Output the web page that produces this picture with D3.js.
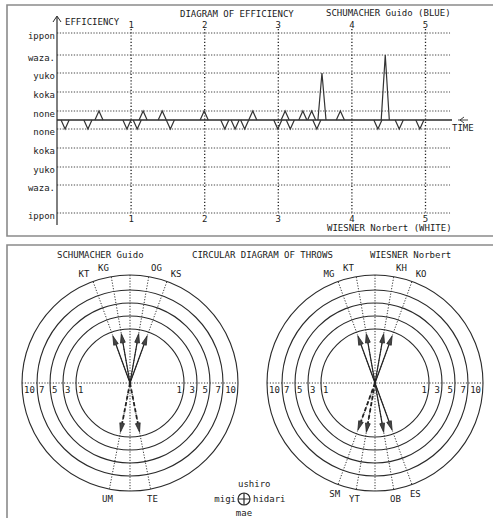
<!DOCTYPE html>
<html>
<head>
<meta charset="utf-8">
<script src="https://cdn.jsdelivr.net/npm/d3@7"></script>
<style>
  body { margin: 0; background: #fff; overflow: hidden; }
  svg { display: block; }
  svg text { font-family: 'DejaVu Sans Mono', monospace; font-size: 9px; fill: #1a1a1a; }
</style>
</head>
<body>
<svg id="chart" width="493" height="518"></svg>
<script>
// ---- diagram of efficiency ----
const levelNames = ['none', 'koka', 'yuko', 'waza.', 'ippon']
const minuteTicks = [1, 2, 3, 4, 5]
// one blip per action: time in minutes, signed score (+ blue / - white, 1 none .. 5 ippon)
const effTime  = [0.11, 0.42, 0.57, 0.95, 1.09, 1.17, 1.43, 1.54, 2.0, 2.28, 2.42, 2.55, 2.66,
                  3.0, 3.1, 3.17, 3.34, 3.46, 3.53, 3.6, 3.85, 4.36, 4.46, 4.65, 4.93]
const effScore = [-1, -1, 1, -1, -1, 1, 1, -1, 1, -1, -1, -1, 1,
                  -1, 1, -1, 1, 1, -1, 3, 1, -1, 4, -1, -1]

// ---- circular diagram of throws ----
const ringValues = [1, 3, 5, 7, 10]
const guidoThrow = ['KT', 'KG', 'OG', 'KS', 'UM', 'TE']
const guidoAngle = [-20, -10, 10, 20, 191, 169]   // degrees, clockwise from ushiro
const guidoCount = [1, 1, 1, 1, 1, 1]
const guidoHidari = [0, 0, 0, 0, 1, 1]
const norbertThrow = ['MG', 'KT', 'KH', 'KO', 'SM', 'YT', 'OB', 'ES']
const norbertAngle = [-20, -10, 10, 20, 200, 190, 170, 160]
const norbertCount = [1, 1, 1, 1, 1, 1, 1, 1]
const norbertHidari = [0, 0, 0, 0, 1, 1, 0, 0]

const ink = '#2a2a2a'
const svg = d3.select('#chart')

// panel frames (right side runs off the page)
svg.append('path').attr('d', 'M493,5 H7 V236 H493')
    .attr('fill', 'none').attr('stroke', '#8a8a8a').attr('stroke-width', 1.6)
svg.append('path').attr('d', 'M493,245 H7 V518')
    .attr('fill', 'none').attr('stroke', '#8a8a8a').attr('stroke-width', 1.6)

// ===== top panel =====
const x = d3.scaleLinear().domain([0, 5]).range([57, 425])
const y = d3.scaleLinear()
    .domain(d3.range(-5, 6))
    .range([213, 185, 167, 148, 129, 120, 111, 92, 73, 55, 33])
const xEnd = 5.34

const topG = svg.append('g')

const levels = d3.range(-5, 6).filter(d => d !== 0)
topG.selectAll('.hgrid').data(levels).join('line')
    .attr('class', 'hgrid')
    .attr('x1', x(0)).attr('x2', x(xEnd))
    .attr('y1', d => y(d)).attr('y2', d => y(d))
    .attr('stroke', '#333').attr('stroke-width', 0.9)
    .attr('stroke-dasharray', '1.3,1.5')

topG.selectAll('.lvl').data(levels).join('text')
    .attr('class', 'lvl')
    .attr('x', 55).attr('y', d => y(d) + 6)
    .attr('text-anchor', 'end')
    .text(d => levelNames[Math.abs(d) - 1])

// minute gridlines + labels on top and bottom
const gridTop = y(5) - 4
const axTop = d3.axisTop(x).tickValues(minuteTicks).tickFormat(d3.format('d'))
    .tickSize(-(y(-5) - gridTop)).tickPadding(1)
topG.append('g').attr('transform', `translate(0,${gridTop})`).call(axTop)
    .call(g => g.select('.domain').remove())
    .call(g => g.selectAll('line').attr('stroke', '#222').attr('stroke-width', 1.3)
        .attr('stroke-dasharray', '1.2,2'))
    .call(g => g.selectAll('text').attr('fill', null))
    .attr('font-size', null).attr('font-family', null)
topG.append('g').attr('transform', `translate(0,${y(-5)})`)
    .call(d3.axisBottom(x).tickValues(minuteTicks).tickFormat(d3.format('d')).tickSize(0).tickPadding(3))
    .call(g => g.select('.domain').remove())
    .call(g => g.selectAll('text').attr('fill', null))
    .attr('font-size', null).attr('font-family', null)

// axes lines
topG.append('line').attr('x1', x(0)).attr('x2', x(0)).attr('y1', 17).attr('y2', 225)
    .attr('stroke', ink).attr('stroke-width', 1.2)
topG.append('path').attr('d', `M${x(0) - 4},22 L${x(0)},16 L${x(0) + 4},22`)
    .attr('fill', 'none').attr('stroke', ink)
topG.append('line').attr('x1', x(0)).attr('x2', x(xEnd) + 2).attr('y1', y(0)).attr('y2', y(0))
    .attr('stroke', ink).attr('stroke-width', 1.3)
topG.append('path').attr('d', `M${x(xEnd) + 8},${y(0)} L${x(xEnd) + 18},${y(0)} M${x(xEnd) + 14},${y(0) - 3} L${x(xEnd) + 10},${y(0)} L${x(xEnd) + 14},${y(0) + 3}`)
    .attr('fill', 'none').attr('stroke', ink).attr('stroke-width', 0.9)

// efficiency blips
const w = 0.055
const tri = d3.line().x(d => x(d[0])).y(d => y(d[1]))
topG.selectAll('.blip').data(d3.zip(effTime, effScore)).join('path')
    .attr('class', 'blip')
    .attr('d', ([t, s]) => tri([[t - w, 0], [t, s], [t + w, 0]]))
    .attr('fill', 'none').attr('stroke', '#333').attr('stroke-width', 1.2)
    .attr('stroke-linejoin', 'miter')

topG.append('text').attr('x', 65).attr('y', 25).text('EFFICIENCY')
topG.append('text').attr('x', 180).attr('y', 17).text('DIAGRAM OF EFFICIENCY')
topG.append('text').attr('x', 326).attr('y', 16).text('SCHUMACHER Guido (BLUE)')
topG.append('text').attr('x', 327).attr('y', 231).text('WIESNER Norbert (WHITE)')
topG.append('text').attr('x', 452).attr('y', 131).text('TIME')

// ===== bottom panel =====
const bottomG = svg.append('g')
const r = d3.scaleLinear().domain([0, 1, 3, 5, 7, 10]).range([0, 54, 67, 80, 93, 108])
const rMax = r(10)
const cy = 383

bottomG.append('text').attr('x', 57).attr('y', 258).text('SCHUMACHER Guido')
bottomG.append('text').attr('x', 192).attr('y', 258).text('CIRCULAR DIAGRAM OF THROWS')
bottomG.append('text').attr('x', 370).attr('y', 258).text('WIESNER Norbert')

const rad = a => a * Math.PI / 180
const pt = (cx, a, rr) => [cx + rr * Math.sin(rad(a)), cy - rr * Math.cos(rad(a))]

function throwCircle (cx, names, angles, counts, hidari) {
  const g = bottomG.append('g')
  g.selectAll('.ring').data(ringValues).join('circle')
      .attr('cx', cx).attr('cy', cy).attr('r', d => r(d))
      .attr('fill', 'none').attr('stroke', ink).attr('stroke-width', 1.1)

  const dotted = (x1, y1, x2, y2) => g.append('line')
      .attr('x1', x1).attr('y1', y1).attr('x2', x2).attr('y2', y2)
      .attr('stroke', '#333').attr('stroke-width', 1).attr('stroke-dasharray', '1.2,1.6')
  dotted(cx - rMax, cy, cx + rMax, cy)
  dotted(cx, cy - rMax, cx, cy + rMax)
  angles.forEach(a => {
    const [ex, ey] = pt(cx, a, rMax)
    dotted(cx, cy, ex, ey)
  })

  // ring values along the horizontal
  g.selectAll('.rl').data(ringValues).join('text')
      .attr('x', d => cx - r(d) + 2).attr('y', cy + 10).text(d => d)
  g.selectAll('.rr').data(ringValues).join('text')
      .attr('x', d => cx + r(d) - 2).attr('y', cy + 10).attr('text-anchor', 'end').text(d => d)

  // throw arrows
  names.forEach((n, i) => {
    const a = angles[i]
    const tip = r(counts[i]) - 4
    const [tx, ty] = pt(cx, a, tip)
    const [bx, by] = pt(cx, a, tip - 9)
    g.append('line').attr('x1', cx).attr('y1', cy).attr('x2', bx).attr('y2', by)
        .attr('stroke', '#222').attr('stroke-width', hidari[i] ? 1.8 : 1.2)
        .attr('stroke-dasharray', hidari[i] ? '4,2.5' : null)
    const [lx, ly] = pt(cx, a - 90, 2.4)
    const [rx2, ry2] = pt(cx, a + 90, 2.4)
    g.append('path')
        .attr('d', `M${tx},${ty} L${bx + lx - cx},${by + ly - cy} L${bx + rx2 - cx},${by + ry2 - cy} Z`)
        .attr('fill', '#444').attr('stroke', '#222').attr('stroke-width', 0.8)

    const off = Math.abs(a) < 90 ? Math.sign(a) * 3 : 0
    const [nx, ny] = pt(cx, a + off, 118)
    g.append('text').attr('x', nx).attr('y', ny + 3).attr('text-anchor', 'middle').text(n)
  })
}

throwCircle(130, guidoThrow, guidoAngle, guidoCount, guidoHidari)
throwCircle(375, norbertThrow, norbertAngle, norbertCount, norbertHidari)

// orientation legend
const lg = bottomG.append('g')
lg.append('text').attr('x', 238).attr('y', 487).text('ushiro')
lg.append('text').attr('x', 236).attr('y', 502).attr('text-anchor', 'end').text('migi')
lg.append('text').attr('x', 253).attr('y', 502).text('hidari')
lg.append('text').attr('x', 244).attr('y', 516).attr('text-anchor', 'middle').text('mae')
lg.append('circle').attr('cx', 244).attr('cy', 499).attr('r', 6)
    .attr('fill', 'none').attr('stroke', ink).attr('stroke-width', 1.2)
lg.append('path').attr('d', 'M238,499 H250 M244,493 V505').attr('stroke', ink).attr('stroke-width', 1.2)
</script>
</body>
</html>
